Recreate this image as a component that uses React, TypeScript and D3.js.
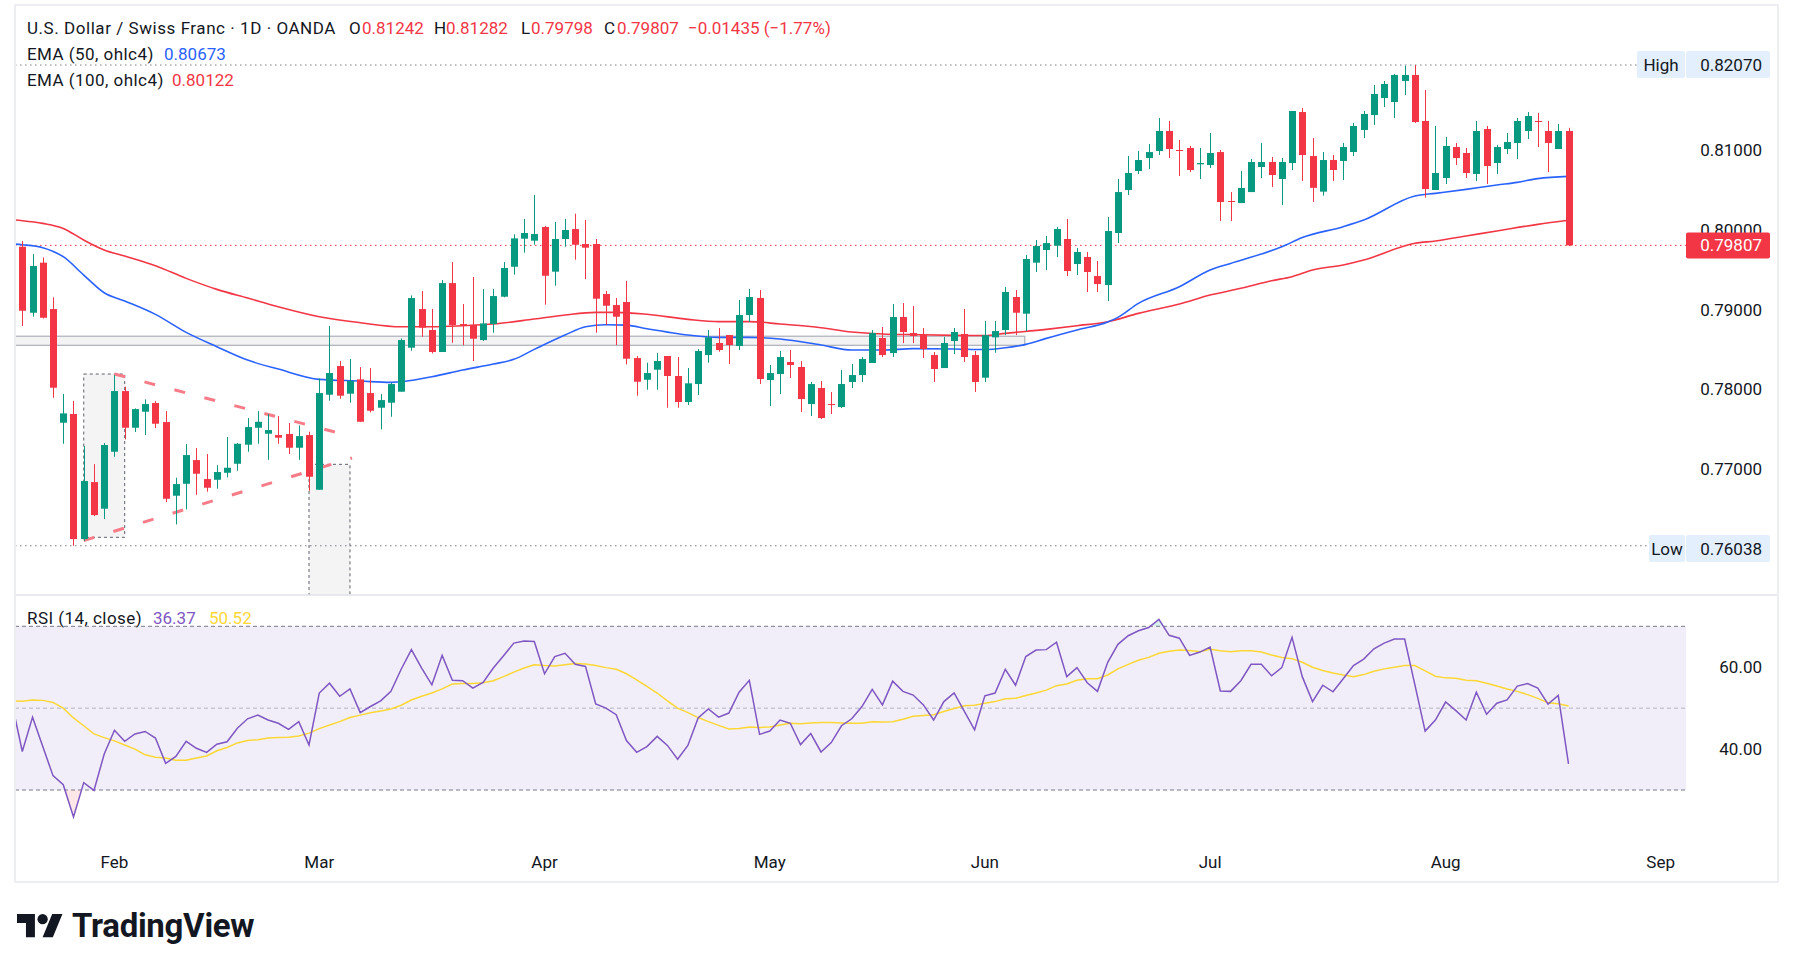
import React from 'react';
import * as d3 from 'd3';

// daily candles, 20 Jan 2026 .. 19 Aug 2026 (trading days)
const opens = [
  0.79790, 0.78962, 0.79590, 0.79008, 0.77582, 0.77691, 0.76122, 0.76837, 0.76503, 0.77218,
  0.77979, 0.77519, 0.77720, 0.77829, 0.77590, 0.76666, 0.76816, 0.77113, 0.76875, 0.76866,
  0.76954, 0.77067, 0.77306, 0.77519, 0.77444, 0.77427, 0.77440, 0.77268, 0.77427, 0.76741,
  0.77933, 0.78293, 0.77946, 0.78126, 0.77954, 0.77770, 0.77833, 0.77971, 0.78523, 0.79008,
  0.78745, 0.78469, 0.79334, 0.78820, 0.78807, 0.78619, 0.78820, 0.79163, 0.79539, 0.79891,
  0.79866, 0.80037, 0.79477, 0.79887, 0.80012, 0.79824, 0.79824, 0.79196, 0.79058, 0.79096,
  0.78393, 0.78121, 0.78247, 0.78419, 0.78168, 0.77842, 0.78067, 0.78431, 0.78582, 0.78682,
  0.78544, 0.78933, 0.79147, 0.78118, 0.78193, 0.78344, 0.78281, 0.77816, 0.78017, 0.77816,
  0.77779, 0.78093, 0.78180, 0.78331, 0.78645, 0.78456, 0.78908, 0.78707, 0.78682, 0.78431,
  0.78268, 0.78607, 0.78695, 0.78431, 0.78147, 0.78653, 0.78745, 0.79159, 0.78950, 0.79590,
  0.79749, 0.79803, 0.79887, 0.79573, 0.79661, 0.79422, 0.79309, 0.79962, 0.80502, 0.80740,
  0.80903, 0.80991, 0.81242, 0.81004, 0.81029, 0.80824, 0.80815, 0.80978, 0.80364, 0.80338,
  0.80476, 0.80790, 0.80853, 0.80640, 0.80840, 0.81480, 0.80928, 0.80481, 0.80878, 0.80866,
  0.80979, 0.81255, 0.81443, 0.81656, 0.81606, 0.81870, 0.81945, 0.81368, 0.80502, 0.80652,
  0.81041, 0.80966, 0.80703, 0.81267, 0.80841, 0.81016, 0.81092, 0.81242, 0.81368, 0.81242,
  0.81016, 0.81242,
];
const highs = [
  0.79861, 0.79698, 0.79656, 0.79155, 0.77942, 0.77854, 0.77289, 0.77063, 0.77327, 0.78180,
  0.78034, 0.77762, 0.77875, 0.77854, 0.77728, 0.76892, 0.77314, 0.77264, 0.77189, 0.77050,
  0.77402, 0.77327, 0.77640, 0.77728, 0.77691, 0.77665, 0.77578, 0.77548, 0.77469, 0.78138,
  0.78795, 0.78356, 0.78381, 0.78280, 0.78268, 0.77941, 0.78084, 0.78640, 0.79180, 0.79234,
  0.79008, 0.79372, 0.79598, 0.79071, 0.79410, 0.79259, 0.79259, 0.79598, 0.79945, 0.80138,
  0.80439, 0.80050, 0.80100, 0.80138, 0.80205, 0.80125, 0.79887, 0.79234, 0.79146, 0.79360,
  0.78418, 0.78335, 0.78456, 0.78419, 0.78406, 0.78268, 0.78507, 0.78745, 0.78770, 0.78682,
  0.79122, 0.79260, 0.79247, 0.78306, 0.78482, 0.78494, 0.78356, 0.78093, 0.78105, 0.77967,
  0.78243, 0.78318, 0.78406, 0.78745, 0.78783, 0.79071, 0.79084, 0.79046, 0.78770, 0.78469,
  0.78657, 0.78770, 0.79009, 0.78482, 0.78858, 0.78858, 0.79284, 0.79247, 0.79686, 0.79874,
  0.79924, 0.80037, 0.80138, 0.79774, 0.79724, 0.79611, 0.80163, 0.80640, 0.80928, 0.80991,
  0.81079, 0.81405, 0.81367, 0.81129, 0.81054, 0.81029, 0.81217, 0.81004, 0.80476, 0.80740,
  0.80891, 0.81091, 0.80916, 0.80903, 0.81493, 0.81531, 0.81154, 0.80979, 0.80941, 0.81092,
  0.81343, 0.81493, 0.81820, 0.81870, 0.81958, 0.82060, 0.82070, 0.81757, 0.81305, 0.81167,
  0.81092, 0.81029, 0.81368, 0.81305, 0.81067, 0.81217, 0.81405, 0.81481, 0.81468, 0.81368,
  0.81330, 0.81282,
];
const lows = [
  0.78795, 0.78912, 0.78890, 0.77895, 0.77318, 0.76038, 0.76097, 0.76410, 0.76373, 0.77155,
  0.77373, 0.77465, 0.77427, 0.77515, 0.76586, 0.76306, 0.76494, 0.76678, 0.76716, 0.76754,
  0.76896, 0.76979, 0.77218, 0.77318, 0.77117, 0.77318, 0.77189, 0.77117, 0.76728, 0.76741,
  0.77858, 0.77883, 0.77833, 0.77594, 0.77711, 0.77498, 0.77657, 0.77971, 0.78485, 0.78661,
  0.78452, 0.78469, 0.78586, 0.78556, 0.78356, 0.78607, 0.78711, 0.79155, 0.79439, 0.79715,
  0.79815, 0.79063, 0.79301, 0.79790, 0.79627, 0.79385, 0.78711, 0.78807, 0.78556, 0.78314,
  0.77921, 0.77996, 0.77996, 0.77770, 0.77770, 0.77804, 0.77929, 0.78335, 0.78473, 0.78318,
  0.78494, 0.78845, 0.78067, 0.77791, 0.77942, 0.78143, 0.77716, 0.77666, 0.77628, 0.77691,
  0.77766, 0.78017, 0.78093, 0.78331, 0.78406, 0.78406, 0.78582, 0.78582, 0.78394, 0.78093,
  0.78268, 0.78444, 0.78344, 0.77967, 0.78093, 0.78460, 0.78682, 0.78682, 0.78732, 0.79473,
  0.79498, 0.79661, 0.79422, 0.79435, 0.79222, 0.79222, 0.79109, 0.79836, 0.80439, 0.80702,
  0.80765, 0.80941, 0.80903, 0.80677, 0.80727, 0.80640, 0.80778, 0.80113, 0.80113, 0.80338,
  0.80476, 0.80652, 0.80539, 0.80313, 0.80753, 0.80615, 0.80351, 0.80431, 0.80615, 0.80627,
  0.80929, 0.81154, 0.81318, 0.81543, 0.81405, 0.81694, 0.81343, 0.80406, 0.80502, 0.80577,
  0.80816, 0.80652, 0.80615, 0.80577, 0.80703, 0.80954, 0.80891, 0.81142, 0.81041, 0.80728,
  0.81016, 0.79798,
];
const closes = [
  0.78987, 0.79548, 0.78899, 0.78021, 0.77699, 0.76122, 0.76850, 0.76423, 0.77302, 0.77979,
  0.77519, 0.77753, 0.77816, 0.77569, 0.76628, 0.76812, 0.77176, 0.76942, 0.76766, 0.76963,
  0.77017, 0.77318, 0.77527, 0.77594, 0.77490, 0.77394, 0.77268, 0.77414, 0.76904, 0.77954,
  0.78205, 0.77921, 0.78105, 0.77594, 0.77732, 0.77866, 0.78067, 0.78619, 0.79146, 0.78774,
  0.78469, 0.79334, 0.78807, 0.78807, 0.78636, 0.78828, 0.79171, 0.79523, 0.79895, 0.79962,
  0.79949, 0.79426, 0.79887, 0.80000, 0.79815, 0.79778, 0.79138, 0.79050, 0.78912, 0.78385,
  0.78096, 0.78205, 0.78356, 0.78168, 0.77842, 0.78076, 0.78482, 0.78653, 0.78494, 0.78557,
  0.78933, 0.79159, 0.78130, 0.78205, 0.78406, 0.78306, 0.77879, 0.78067, 0.77641, 0.77804,
  0.78067, 0.78180, 0.78381, 0.78707, 0.78431, 0.78908, 0.78720, 0.78670, 0.78507, 0.78256,
  0.78582, 0.78720, 0.78406, 0.78093, 0.78680, 0.78732, 0.79222, 0.78962, 0.79636, 0.79799,
  0.79836, 0.80012, 0.79485, 0.79724, 0.79473, 0.79322, 0.79987, 0.80476, 0.80715, 0.80878,
  0.80978, 0.81242, 0.81016, 0.80991, 0.80753, 0.80840, 0.80966, 0.80351, 0.80355, 0.80527,
  0.80853, 0.80853, 0.80690, 0.80853, 0.81493, 0.80941, 0.80529, 0.80878, 0.80753, 0.81041,
  0.81305, 0.81456, 0.81707, 0.81832, 0.81945, 0.81945, 0.81355, 0.80514, 0.80715, 0.81054,
  0.80903, 0.80715, 0.81242, 0.80803, 0.81041, 0.81104, 0.81368, 0.81430, 0.81355, 0.81092,
  0.81242, 0.79807,
];

// EMA lines as [bar, value]; bar -1 is the day before the first candle
const ema50: [number, number][] = [
  [-1, 0.79826], [0, 0.79815], [2, 0.79778], [4, 0.79665], [6, 0.79435], [8, 0.79213],
  [10, 0.79109], [13, 0.78941], [16, 0.78715], [19, 0.78536], [22, 0.78368], [25, 0.78255],
  [29, 0.78126], [33, 0.78105], [36, 0.78088], [40, 0.78159], [43, 0.78243], [46, 0.78318],
  [48, 0.78377], [50, 0.78502], [53, 0.78682], [55, 0.78786], [57, 0.78812], [59, 0.78807],
  [61, 0.78760], [63, 0.78719], [65, 0.78682], [68, 0.78653], [71, 0.78653], [74, 0.78632],
  [78, 0.78557], [81, 0.78494], [84, 0.78494], [87, 0.78511], [91, 0.78507], [94, 0.78500],
  [96, 0.78523], [98, 0.78565], [100, 0.78640], [103, 0.78745], [106, 0.78845], [107, 0.78904],
  [109, 0.79080], [113, 0.79289], [116, 0.79498], [118, 0.79581], [121, 0.79698], [123, 0.79790],
  [125, 0.79905], [129, 0.80042], [131, 0.80125], [136, 0.80427], [138, 0.80460], [141, 0.80510],
  [144, 0.80565], [146, 0.80598], [148, 0.80645], [151, 0.80673],
];
const ema100: [number, number][] = [
  [-1, 0.80128], [0, 0.80117], [2, 0.80083], [4, 0.80020], [6, 0.79874], [8, 0.79749],
  [10, 0.79673], [13, 0.79552], [16, 0.79393], [19, 0.79255], [22, 0.79146], [25, 0.79037],
  [29, 0.78912], [33, 0.78837], [37, 0.78786], [40, 0.78786], [43, 0.78799], [46, 0.78820],
  [50, 0.78883], [53, 0.78933], [56, 0.78966], [58, 0.78966], [61, 0.78942], [65, 0.78879],
  [68, 0.78850], [71, 0.78850], [74, 0.78820], [78, 0.78774], [81, 0.78720], [84, 0.78695],
  [87, 0.78687], [91, 0.78678], [94, 0.78676], [96, 0.78703], [100, 0.78753], [103, 0.78799],
  [106, 0.78849], [109, 0.78954], [113, 0.79071], [116, 0.79184], [119, 0.79268], [122, 0.79364],
  [124, 0.79414], [126, 0.79498], [129, 0.79561], [131, 0.79623], [136, 0.79833], [138, 0.79862],
  [141, 0.79925], [144, 0.79987], [148, 0.80071], [151, 0.80122],
];

// RSI(14) and its MA, one value per bar starting at bar -1
const rsi = [
  51.1,
  39.4, 47.8, 40.6, 33.5, 31.3, 23.4, 31.8, 29.9, 38.8, 44.6,
  41.9, 43.7, 44.3, 42.7, 36.5, 38.2, 41.9, 40.2, 39.2, 41.2,
  41.8, 45.1, 47.4, 48.3, 47.1, 46.3, 44.8, 46.7, 41.0, 53.7,
  56.1, 52.9, 54.7, 48.9, 50.4, 51.8, 54.1, 59.5, 64.3, 59.8,
  55.7, 62.9, 56.8, 56.7, 54.9, 56.3, 59.8, 62.8, 65.9, 66.4,
  66.3, 58.4, 62.6, 63.4, 60.7, 60.2, 51.0, 50.0, 48.4, 42.1,
  39.2, 40.6, 43.1, 40.9, 37.5, 40.9, 47.6, 49.8, 47.8, 48.8,
  53.9, 56.8, 43.6, 44.4, 47.1, 46.3, 41.1, 43.8, 39.3, 41.6,
  45.7, 47.4, 50.4, 54.6, 50.8, 56.6, 54.1, 53.2, 50.8, 47.1,
  51.6, 53.7, 49.2, 44.7, 53.0, 53.7, 59.5, 55.6, 62.6, 64.2,
  64.3, 66.1, 57.7, 59.9, 56.2, 54.1, 61.2, 65.6, 67.7, 68.9,
  69.7, 71.7, 67.8, 67.1, 62.9, 63.7, 64.9, 54.2, 54.1, 56.7,
  60.7, 60.7, 57.9, 59.9, 67.3, 57.7, 51.6, 55.6, 54.0, 57.2,
  60.4, 62.0, 64.5, 65.9, 66.9, 66.9, 55.7, 44.4, 47.1, 51.5,
  49.4, 47.1, 53.9, 48.5, 51.2, 52.0, 55.4, 56.0, 54.9, 51.0,
  53.1, 36.37,
];
const rsiMa = [
  51.8,
  51.7, 52.0, 51.9, 51.4, 50.0, 47.6, 45.7, 43.7, 42.8, 42.0,
  41.0, 40.0, 38.6, 38.0, 37.8, 37.3, 37.3, 37.8, 38.3, 39.6,
  40.4, 41.5, 42.1, 42.3, 42.7, 42.8, 42.9, 43.2, 43.9, 45.0,
  45.9, 46.7, 47.7, 48.3, 48.9, 49.3, 49.8, 50.7, 52.0, 52.9,
  53.7, 54.7, 55.9, 56.0, 56.0, 56.2, 56.7, 57.7, 58.8, 59.8,
  60.6, 60.4, 60.3, 60.6, 60.9, 60.8, 60.4, 59.9, 59.5, 58.4,
  56.9, 55.3, 53.7, 51.8, 50.0, 48.9, 47.7, 46.7, 45.8, 44.9,
  45.0, 45.4, 45.3, 45.4, 45.9, 46.3, 46.2, 46.4, 46.5, 46.5,
  46.4, 46.3, 46.3, 46.7, 46.6, 46.7, 47.3, 48.0, 48.2, 48.4,
  49.2, 49.9, 50.6, 50.7, 51.2, 51.6, 52.3, 52.4, 53.1, 53.7,
  54.4, 55.5, 55.9, 56.8, 57.2, 57.2, 58.1, 59.6, 60.7, 61.7,
  62.4, 63.4, 63.9, 64.2, 64.1, 63.8, 64.4, 64.0, 63.8, 64.0,
  64.0, 63.7, 63.0, 62.4, 62.1, 61.2, 60.0, 59.2, 58.6, 58.1,
  57.7, 58.2, 59.0, 59.6, 60.0, 60.4, 60.4, 59.1, 57.8, 57.4,
  57.3, 56.8, 56.7, 56.1, 55.4, 54.7, 54.1, 53.3, 52.4, 51.3,
  51.1, 50.52,
];

const priceTicks = [0.77, 0.78, 0.79, 0.8, 0.81];
const rsiTicks = [40, 60];
const firstDay = new Date(2026, 0, 20);
const axisEnd = new Date(2026, 8, 30);

// drawings on the chart: [bar, price]
const bandRect = { x0: -2, x1: 97.9, p0: 0.78667, p1: 0.78553 };
const boxA = { x0: 6, x1: 10, p0: 0.78193, p1: 0.76144 };
const boxB = { x0: 28, x1: 32, p0: 0.7706, p1: 0.74 };
const triUpper: [number, number][] = [[9, 0.78193], [31, 0.77449]];
const triLower: [number, number][] = [[6, 0.76102], [32.2, 0.77139]];

const HIGH = 0.8207, LOW = 0.76038, LAST = 0.79807;

const UP = '#089981', DOWN = '#f23645', TXT = '#131722';
const FONT = 'Roboto, "Noto Sans", sans-serif';
const LS = 0.45; // label letter spacing

export default function App() {
  const W = 1793, H = 971;
  const paneL = 15, paneR = 1692, bandR = 1686, mainTop = 5, mainBot = 595, rsiBot = 845;
  const axisTextX = 1762;

  const days = d3.timeDay.range(firstDay, axisEnd).filter(d => d.getDay() !== 0 && d.getDay() !== 6);
  const monthTicks = days
    .map((d, i) => ({ d, i }))
    .filter(({ d, i }) => i > 0 && d.getMonth() !== days[i - 1].getMonth());

  const x = d3.scaleLinear().domain([0, closes.length - 1]).range([22.3, 1568.5]);
  const y = d3.scaleLinear().domain([0.77, 0.81]).range([469.1, 150.3]);
  const ry = d3.scaleLinear().domain([30, 70]).range([790, 626.3]);

  const emaLine = d3.line<[number, number]>().x(d => x(d[0])).y(d => y(d[1])).curve(d3.curveMonotoneX);
  const rsiLine = d3.line<number>().x((_, i) => x(i - 1)).y(d => ry(d));
  const rsiAboveArea = d3.area<number>().x((_, i) => x(i - 1)).y0(ry(70)).y1(d => ry(d));
  const rsiBelowArea = d3.area<number>().x((_, i) => x(i - 1)).y0(ry(30)).y1(d => ry(d));
  const segLine = d3.line<[number, number]>().x(d => x(d[0])).y(d => y(d[1]));

  const bodyW = 7;
  const fmt5 = d3.format('.5f');

  return (
    <svg width={W} height={H} style={{ position: 'absolute', left: 0, top: 0, background: '#fff' }}
      fontFamily={FONT}>
      <defs>
        <clipPath id="mainClip"><rect x={paneL} y={mainTop} width={paneR - paneL} height={mainBot - mainTop} /></clipPath>
        <clipPath id="rsiClip"><rect x={paneL} y={mainBot} width={paneR - paneL} height={rsiBot - mainBot} /></clipPath>
        <clipPath id="above70"><rect x={paneL} y={mainBot} width={paneR - paneL} height={ry(70) - mainBot} /></clipPath>
        <clipPath id="below30"><rect x={paneL} y={ry(30)} width={paneR - paneL} height={rsiBot - ry(30)} /></clipPath>
      </defs>
      <rect x={0} y={0} width={W} height={H} fill="#fff" />

      {/* main pane */}
      <g clipPath="url(#mainClip)">
        <rect x={paneL - 5} y={y(bandRect.p0)} width={x(bandRect.x1) - paneL + 5}
          height={y(bandRect.p1) - y(bandRect.p0)} fill="#f3f3f4" stroke="#b2b5be" strokeWidth={1.3} />
        {[boxA, boxB].map((b, k) => (
          <rect key={k} x={x(b.x0)} y={y(b.p0)} width={x(b.x1) - x(b.x0)} height={y(b.p1) - y(b.p0)}
            fill="#f4f4f4" stroke="#5d606b" strokeWidth={1} strokeDasharray="3,3" />
        ))}
        <line x1={paneL} x2={1637} y1={y(HIGH)} y2={y(HIGH)} stroke="#787b86" strokeDasharray="1.5,3.5" />
        <line x1={paneL} x2={1649} y1={y(LOW)} y2={y(LOW)} stroke="#787b86" strokeDasharray="1.5,3.5" />
        <line x1={paneL} x2={1686} y1={y(LAST)} y2={y(LAST)} stroke={DOWN} strokeDasharray="1.5,3.5" />
        <path d={segLine(triUpper) ?? ''} stroke="#f77c88" strokeWidth={3} strokeDasharray="11,20" fill="none" />
        <path d={segLine(triLower) ?? ''} stroke="#f77c88" strokeWidth={3} strokeDasharray="11,20" fill="none" />
        <path d={emaLine(ema100) ?? ''} stroke="#f23645" strokeWidth={1.6} fill="none" />
        <path d={emaLine(ema50) ?? ''} stroke="#2962ff" strokeWidth={1.6} fill="none" />
        {closes.map((c, i) => {
          const o = opens[i], up = c >= o, col = up ? UP : DOWN;
          const cx = Math.round(x(i)) + 0.5;
          const top = y(Math.max(o, c)), bot = y(Math.min(o, c));
          return (
            <g key={i}>
              <line x1={cx} x2={cx} y1={y(highs[i])} y2={y(lows[i])} stroke={col} strokeWidth={1} />
              <rect x={cx - bodyW / 2} y={top} width={bodyW} height={Math.max(1, bot - top)} fill={col} />
            </g>
          );
        })}
      </g>

      {/* price axis */}
      {priceTicks.map(t => (
        <text key={t} x={axisTextX} y={y(t)} textAnchor="end" dominantBaseline="central" fontSize={17} fill={TXT}>
          {fmt5(t)}
        </text>
      ))}
      <rect x={1637} y={51} width={48} height={27} rx={2} fill="#e3effd" />
      <rect x={1686} y={51} width={84} height={27} rx={2} fill="#e3effd" />
      <text x={1661} y={64.5} textAnchor="middle" dominantBaseline="central" fontSize={17} fill={TXT}>High</text>
      <text x={axisTextX} y={64.5} textAnchor="end" dominantBaseline="central" fontSize={17} fill={TXT}>{fmt5(HIGH)}</text>
      <rect x={1649} y={535} width={36} height={27} rx={2} fill="#e3effd" />
      <rect x={1686} y={535} width={84} height={27} rx={2} fill="#e3effd" />
      <text x={1667} y={548.5} textAnchor="middle" dominantBaseline="central" fontSize={17} fill={TXT}>Low</text>
      <text x={axisTextX} y={548.5} textAnchor="end" dominantBaseline="central" fontSize={17} fill={TXT}>{fmt5(LOW)}</text>
      <rect x={1686} y={y(LAST) - 13} width={84} height={26} rx={2} fill={DOWN} />
      <text x={axisTextX} y={y(LAST)} textAnchor="end" dominantBaseline="central" fontSize={17} fill="#fff">{fmt5(LAST)}</text>

      {/* legend */}
      <g fontSize={17} dominantBaseline="central">
        <text y={28} fill={TXT}>
          <tspan x={27} letterSpacing={0.55}>U.S. Dollar / Swiss Franc · 1D · OANDA</tspan>
          <tspan x={349}>O</tspan><tspan x={362} fill={DOWN}>0.81242</tspan>
          <tspan x={434}>H</tspan><tspan x={446} fill={DOWN}>0.81282</tspan>
          <tspan x={521}>L</tspan><tspan x={531} fill={DOWN}>0.79798</tspan>
          <tspan x={604}>C</tspan><tspan x={617} fill={DOWN}>0.79807</tspan>
          <tspan x={688} fill={DOWN}>−0.01435 (−1.77%)</tspan>
        </text>
        <text y={54} fill={TXT}>
          <tspan x={27} letterSpacing={LS}>EMA (50, ohlc4)</tspan><tspan x={164} fill="#2962ff">0.80673</tspan>
        </text>
        <text y={80} fill={TXT}>
          <tspan x={27} letterSpacing={LS}>EMA (100, ohlc4)</tspan><tspan x={172} fill={DOWN}>0.80122</tspan>
        </text>
      </g>

      {/* RSI pane */}
      <line x1={paneL} x2={1778} y1={mainBot} y2={mainBot} stroke="#e0e3eb" strokeWidth={1.5} />
      <rect x={paneL} y={ry(70)} width={bandR - paneL} height={ry(30) - ry(70)} fill="#7e57c2" fillOpacity={0.1} />
      <line x1={paneL} x2={bandR} y1={ry(70)} y2={ry(70)} stroke="#787b86" strokeDasharray="4,3" />
      <line x1={paneL} x2={bandR} y1={ry(50)} y2={ry(50)} stroke="#787b86" strokeOpacity={0.5} strokeDasharray="4,3" />
      <line x1={paneL} x2={bandR} y1={ry(30)} y2={ry(30)} stroke="#787b86" strokeDasharray="4,3" />
      <g clipPath="url(#rsiClip)">
        <g clipPath="url(#above70)">
          <path d={rsiAboveArea(rsi) ?? ''} fill={UP} fillOpacity={0.15} />
        </g>
        <g clipPath="url(#below30)">
          <path d={rsiBelowArea(rsi) ?? ''} fill={DOWN} fillOpacity={0.12} />
        </g>
        <path d={rsiLine(rsiMa) ?? ''} stroke="#fdd835" strokeWidth={1.5} fill="none" />
        <path d={rsiLine(rsi) ?? ''} stroke="#7e57c2" strokeWidth={1.5} fill="none" />
      </g>
      {rsiTicks.map(t => (
        <text key={t} x={axisTextX} y={ry(t)} textAnchor="end" dominantBaseline="central" fontSize={17} fill={TXT}>
          {t.toFixed(2)}
        </text>
      ))}
      <text y={618} fontSize={17} dominantBaseline="central" fill={TXT}>
        <tspan x={27} letterSpacing={LS}>RSI (14, close)</tspan>
        <tspan x={153} fill="#7e57c2">{rsi[rsi.length - 1].toFixed(2)}</tspan>
        <tspan x={209} fill="#fdd835">{rsiMa[rsiMa.length - 1].toFixed(2)}</tspan>
      </text>

      {/* time axis */}
      {monthTicks.map(({ d, i }) => (
        <text key={i} x={x(i)} y={862} textAnchor="middle" dominantBaseline="central" fontSize={17} fill={TXT}>
          {d3.timeFormat('%b')(d)}
        </text>
      ))}

      {/* frame */}
      <rect x={15} y={5} width={1763} height={877} fill="none" stroke="#eceef2" strokeWidth={2} />

      {/* logo */}
      <g transform="translate(17,909) scale(1.28)" fill={TXT}>
        <path d="M14 22H7V11H0V4h14v18zM28 22h-8l7.5-18h8L28 22z" />
        <circle cx={20} cy={8} r={4} />
      </g>
      <text x={72} y={937} fontSize={33} fontWeight={700} fill={TXT} letterSpacing={-0.3}>TradingView</text>
    </svg>
  );
}
